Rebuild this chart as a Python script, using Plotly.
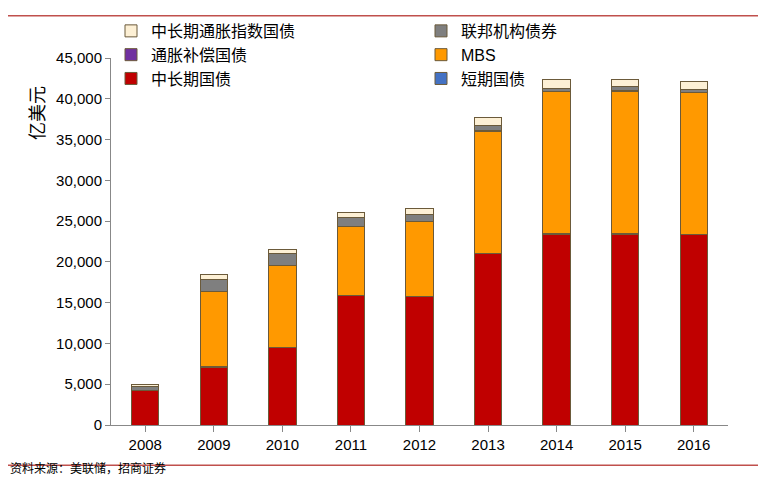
import plotly.graph_objects as go

years = ["2008", "2009", "2010", "2011", "2012", "2013", "2014", "2015", "2016"]
notes = [4170, 7100, 9500, 15900, 15700, 21000, 23400, 23400, 23300]
bills = [30, 40, 40, 40, 40, 40, 40, 40, 40]
mbs = [0, 9200, 10000, 8400, 9200, 15000, 17400, 17500, 17400]
tips_comp = [20, 30, 30, 30, 30, 30, 30, 30, 30]
agency = [450, 1500, 1400, 1100, 800, 600, 450, 550, 400]
tips = [300, 600, 600, 600, 800, 1000, 1000, 900, 1000]

series = [
    ("中长期国债", notes, "#c00000", 5),
    ("短期国债", bills, "#4472c4", 6),
    ("MBS", mbs, "#ff9900", 4),
    ("通胀补偿国债", tips_comp, "#7030a0", 3),
    ("联邦机构债券", agency, "#7f7f7f", 2),
    ("中长期通胀指数国债", tips, "#fdf0d5", 1),
]

fig = go.Figure()
for name, vals, color, rank in series:
    fig.add_trace(go.Bar(
        x=years, y=vals, name=name, legendrank=rank,
        marker=dict(color=color, line=dict(color="#6b5a3a", width=1)),
    ))

fig.update_layout(
    barmode="stack",
    bargap=0.6,
    width=766, height=477,
    paper_bgcolor="white", plot_bgcolor="white",
    margin=dict(l=103, r=46, t=50, b=60, autoexpand=False),
    font=dict(family="Liberation Sans, Noto Sans CJK SC", size=15, color="black"),
    legend=dict(orientation="h", x=0.0, y=1.12, yanchor="top", xanchor="left",
                entrywidth=265, traceorder="normal", font=dict(size=16),
                bgcolor="rgba(0,0,0,0)", itemwidth=30, tracegroupgap=0),
    xaxis=dict(showline=True, linecolor="#888", ticks="outside", tickcolor="#888",
               ticklen=6, showgrid=False),
    yaxis=dict(range=[0, 45000], dtick=5000, tickformat=",", showline=True,
               linecolor="#888", ticks="outside", tickcolor="#888", ticklen=5,
               showgrid=False, zeroline=False),
    annotations=[
        dict(text="亿美元", textangle=-90, x=-0.1, y=0.93, xref="paper", yref="paper",
             xanchor="right", showarrow=False, font=dict(size=18)),
        dict(text="资料来源：美联储，招商证券", x=-0.167, xanchor="left", y=-0.145,
             xref="paper", yref="paper", showarrow=False,
             font=dict(size=12, family="Noto Sans CJK SC")),
    ],
    shapes=[
        dict(type="line", xref="paper", yref="paper", x0=-0.17, x1=1.08, y0=1.115, y1=1.115,
             line=dict(color="#c0504d", width=1.5)),
        dict(type="line", xref="paper", yref="paper", x0=-0.17, x1=1.08, y0=-0.11, y1=-0.11,
             line=dict(color="#c0504d", width=1.5)),
    ],
)

fig.write_html("out.html")
